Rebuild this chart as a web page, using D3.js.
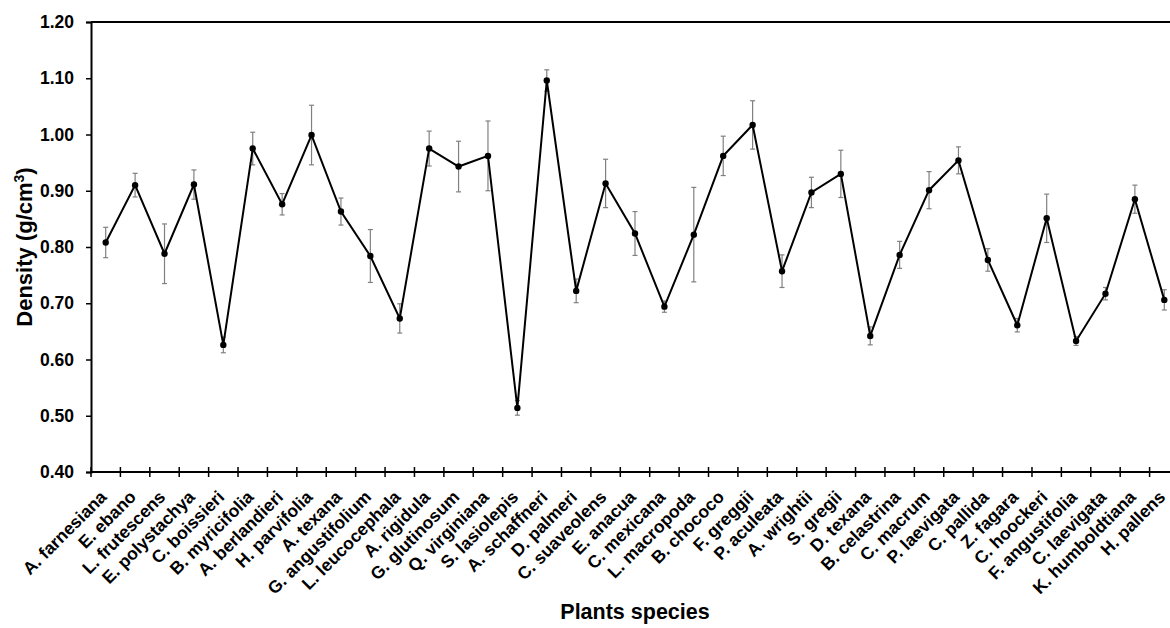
<!DOCTYPE html>
<html>
<head>
<meta charset="utf-8">
<script src="https://cdn.jsdelivr.net/npm/d3@7"></script>
<style>
  html, body { margin: 0; padding: 0; background: #fff; overflow: hidden; }
  #chart { width: 1170px; height: 628px; }
  #chart svg { display: block; }
  text { font-family: Arial, "Liberation Sans", sans-serif; font-weight: bold; fill: #000; }
</style>
</head>
<body>
<div id="chart"></div>
<script>
// species along the x axis
const species = [
  "A. farnesiana", "E. ebano", "L. frutescens", "E. polystachya", "C. boissieri",
  "B. myricifolia", "A. berlandieri", "H. parvifolia", "A. texana", "G. angustifolium",
  "L. leucocephala", "A. rigidula", "G. glutinosum", "Q. virginiana", "S. lasiolepis",
  "A. schaffneri", "D. palmeri", "C. suaveolens", "E. anacua", "C. mexicana",
  "L. macropoda", "B. chococo", "F. greggii", "P. aculeata", "A. wrightii",
  "S. gregii", "D. texana", "B. celastrina", "C. macrum", "P. laevigata",
  "C. pallida", "Z. fagara", "C. hoockeri", "F. angustifolia", "C. laevigata",
  "K. humboldtiana", "H. pallens"
];

// mean density (g/cm3)
const density = [
  0.808, 0.910, 0.788, 0.911, 0.626,
  0.975, 0.876, 0.999, 0.863, 0.784,
  0.673, 0.975, 0.943, 0.962, 0.514,
  1.096, 0.722, 0.913, 0.824, 0.694,
  0.822, 0.962, 1.017, 0.757, 0.897,
  0.930, 0.642, 0.786, 0.901, 0.954,
  0.777, 0.661, 0.851, 0.633, 0.717,
  0.885, 0.706
];

// standard error
const stdErr = [
  0.027, 0.021, 0.053, 0.026, 0.014,
  0.029, 0.019, 0.053, 0.024, 0.047,
  0.026, 0.031, 0.045, 0.062, 0.013,
  0.019, 0.021, 0.043, 0.039, 0.010,
  0.084, 0.035, 0.043, 0.029, 0.027,
  0.042, 0.016, 0.024, 0.033, 0.024,
  0.020, 0.012, 0.043, 0.008, 0.011,
  0.025, 0.018
];

const yTicks = [0.40, 0.50, 0.60, 0.70, 0.80, 0.90, 1.00, 1.10, 1.20];

const data = species.map((s, i) => ({ name: s, value: density[i], err: stdErr[i] }));

const width = 1170, height = 628;
// the plot area runs a little past the right edge, as in the original figure
const margin = { top: 22, bottom: 156, left: 91 };
const plotRight = 1179;
const innerWidth = plotRight - margin.left;
const innerHeight = height - margin.top - margin.bottom;
const visibleWidth = width - margin.left;

const svg = d3.select("#chart").append("svg")
  .attr("width", width)
  .attr("height", height);

const g = svg.append("g")
  .attr("transform", `translate(${margin.left},${margin.top})`);

const x = d3.scaleBand()
  .domain(species)
  .range([0, innerWidth]);

const y = d3.scaleLinear()
  .domain([0.40, 1.20])
  .range([innerHeight, 0]);

// top border
g.append("line")
  .attr("x1", 0).attr("x2", visibleWidth)
  .attr("y1", 0).attr("y2", 0)
  .attr("stroke", "#000").attr("stroke-width", 2);

// y axis
const yAxis = g.append("g")
  .call(d3.axisLeft(y).tickValues(yTicks).tickFormat(d3.format(".2f")).tickSize(5).tickPadding(12));
yAxis.select(".domain").attr("stroke-width", 2);
yAxis.selectAll(".tick line").attr("stroke-width", 1.5);
yAxis.selectAll("text")
  .attr("font-size", 17.5)
  .attr("font-weight", "bold")
  .attr("font-family", "Arial, 'Liberation Sans', sans-serif")
  .attr("fill", "#000");

// x axis: ticks at category boundaries, crossing the axis line
const xAxisG = g.append("g")
  .attr("transform", `translate(0,${innerHeight})`);
xAxisG.append("line")
  .attr("x1", 0).attr("x2", visibleWidth)
  .attr("stroke", "#000").attr("stroke-width", 2);
const bounds = d3.range(species.length + 1)
  .map(i => i * x.step())
  .filter(b => b <= visibleWidth);
xAxisG.selectAll(".xtick")
  .data(bounds)
  .join("line")
  .attr("class", "xtick")
  .attr("x1", d => d).attr("x2", d => d)
  .attr("y1", -5).attr("y2", 5)
  .attr("stroke", "#000").attr("stroke-width", 1.5);

// category labels
svg.append("g")
  .selectAll(".xlabel")
  .data(species)
  .join("text")
  .attr("class", "xlabel")
  .attr("text-anchor", "end")
  .attr("font-size", 17.5)
  .attr("transform", d => `translate(${margin.left + x(d) + x.bandwidth() / 2 + 2},${margin.top + innerHeight + 26}) rotate(-45)`)
  .text(d => d);

// error bars
const eb = g.append("g").attr("stroke", "#808080").attr("stroke-width", 1.2);
const cx = d => x(d.name) + x.bandwidth() / 2;
eb.selectAll(".ev").data(data).join("line")
  .attr("x1", cx).attr("x2", cx)
  .attr("y1", d => y(d.value + d.err)).attr("y2", d => y(d.value - d.err));
eb.selectAll(".ct").data(data).join("line")
  .attr("x1", d => cx(d) - 2.5).attr("x2", d => cx(d) + 2.5)
  .attr("y1", d => y(d.value + d.err)).attr("y2", d => y(d.value + d.err));
eb.selectAll(".cb").data(data).join("line")
  .attr("x1", d => cx(d) - 2.5).attr("x2", d => cx(d) + 2.5)
  .attr("y1", d => y(d.value - d.err)).attr("y2", d => y(d.value - d.err));

// line + markers
g.append("path")
  .datum(data)
  .attr("fill", "none")
  .attr("stroke", "#000")
  .attr("stroke-width", 2)
  .attr("d", d3.line().x(cx).y(d => y(d.value)));

g.selectAll(".pt").data(data).join("circle")
  .attr("cx", cx)
  .attr("cy", d => y(d.value))
  .attr("r", 3.2)
  .attr("fill", "#000");

// axis titles
svg.append("text")
  .attr("transform", `translate(32,${margin.top + innerHeight / 2}) rotate(-90)`)
  .attr("text-anchor", "middle")
  .attr("font-size", 22)
  .html("Density (g/cm<tspan dy='-8' font-size='14'>3</tspan><tspan dy='8'>)</tspan>");

svg.append("text")
  .attr("x", margin.left + innerWidth / 2)
  .attr("y", 619)
  .attr("text-anchor", "middle")
  .attr("font-size", 21.5)
  .text("Plants species");
</script>
</body>
</html>
